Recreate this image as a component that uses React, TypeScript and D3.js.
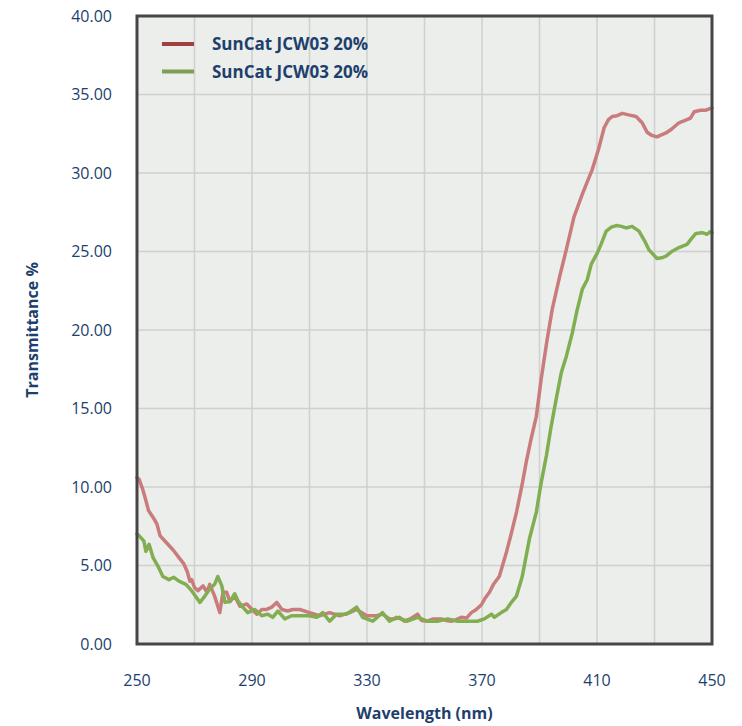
import React from "react";
import * as d3 from "d3";

const redWavelengths = [250, 250.7, 252, 253, 254, 256, 257, 258, 260, 262.5, 264.6, 266.3, 267.5, 268.4, 269, 270, 271.2, 273, 274.3, 275.3, 277, 278.8, 279.9, 281.2, 282.3, 284, 285.8, 288.2, 290, 291.7, 293.4, 295.1, 296.9, 298.6, 300.4, 302.4, 304.2, 306.6, 310, 313.5, 317, 320.5, 324, 326.4, 329.9, 333.3, 335.4, 337.8, 339.6, 341.3, 343, 345, 347.6, 349, 351, 353, 355.9, 357.5, 359.4, 361, 362.8, 364.6, 366.3, 368, 369.8, 371, 372.6, 374, 376, 378.5, 380, 382, 384, 385.4, 387, 388.9, 390.6, 392.5, 394.4, 397, 399.3, 402, 405, 408.3, 410.5, 412.5, 414, 415.3, 417, 418.8, 421, 423.6, 425.7, 427.4, 429, 430.9, 432, 434, 436, 438.5, 441.3, 442.5, 443.8, 446, 447.9, 449.3, 450];
const redValues = [10.6, 10.5, 9.85, 9.2, 8.5, 7.95, 7.6, 6.9, 6.5, 6.0, 5.5, 5.1, 4.6, 4.0, 4.1, 3.6, 3.4, 3.7, 3.3, 3.8, 3.05, 2.0, 3.3, 3.3, 2.7, 3.05, 2.4, 2.55, 2.2, 1.9, 2.2, 2.2, 2.35, 2.65, 2.2, 2.1, 2.2, 2.2, 2.0, 1.8, 2.0, 1.8, 2.0, 2.2, 1.8, 1.8, 1.9, 1.6, 1.6, 1.7, 1.45, 1.6, 1.9, 1.5, 1.45, 1.6, 1.6, 1.5, 1.45, 1.55, 1.7, 1.65, 2.0, 2.2, 2.5, 2.9, 3.3, 3.8, 4.3, 5.85, 6.9, 8.4, 10.2, 11.6, 13.0, 14.5, 16.9, 19.2, 21.3, 23.4, 25.1, 27.2, 28.7, 30.2, 31.5, 32.9, 33.4, 33.6, 33.65, 33.8, 33.7, 33.6, 33.2, 32.6, 32.4, 32.3, 32.4, 32.55, 32.8, 33.2, 33.4, 33.5, 33.9, 34.0, 34.0, 34.1, 34.15];

const greenWavelengths = [250, 250.7, 252.4, 253.1, 254.2, 255.6, 257.3, 259, 261.1, 262.8, 264.6, 267, 269, 271.9, 273.6, 275.3, 277, 278.1, 279.5, 280.6, 282.3, 284, 285.1, 286.8, 288.5, 291, 293.4, 295.5, 297.2, 299, 301.4, 303.8, 306.6, 310, 312.5, 314.6, 317, 319.4, 322.9, 326.4, 328.5, 332, 335.4, 337.8, 340.3, 344, 347.6, 351, 354.5, 358, 361.5, 365, 368.4, 370.8, 373.3, 374.3, 376.7, 378.5, 380, 382, 384, 386.5, 388.9, 390.5, 392.4, 394, 395.8, 397.6, 399.3, 401.4, 403, 404.9, 406.6, 408, 410.1, 411.5, 413.2, 415, 416.7, 418.5, 420.1, 422.2, 424.6, 426.5, 428.1, 430.9, 432.5, 434, 436, 438.5, 441.3, 442.8, 444.4, 446.5, 448.3, 449.3, 450];
const greenValues = [7.0, 6.9, 6.55, 5.9, 6.35, 5.5, 4.95, 4.3, 4.1, 4.25, 4.0, 3.8, 3.4, 2.65, 3.05, 3.5, 3.8, 4.3, 3.7, 2.65, 2.7, 3.2, 2.75, 2.35, 2.0, 2.2, 1.8, 1.9, 1.7, 2.1, 1.6, 1.8, 1.8, 1.8, 1.7, 2.0, 1.45, 1.9, 1.9, 2.35, 1.7, 1.45, 2.0, 1.45, 1.7, 1.45, 1.7, 1.45, 1.45, 1.6, 1.45, 1.45, 1.45, 1.6, 1.9, 1.7, 2.0, 2.2, 2.6, 3.05, 4.3, 6.7, 8.4, 10.2, 12.0, 13.8, 15.6, 17.3, 18.3, 19.8, 21.2, 22.6, 23.2, 24.2, 24.9, 25.5, 26.3, 26.55, 26.65, 26.6, 26.5, 26.6, 26.3, 25.7, 25.1, 24.55, 24.6, 24.7, 25.0, 25.25, 25.45, 25.8, 26.15, 26.2, 26.1, 26.25, 26.2];

const seriesNames = ["SunCat JCW03 20%", "SunCat JCW03 20%"];
const xTickLabels = [250, 290, 330, 370, 410, 450];
const xGridValues = [270, 290, 310, 330, 350, 370, 390, 410, 430];
const yTickLabels = [0, 5, 10, 15, 20, 25, 30, 35, 40];
const xTitle = "Wavelength (nm)";
const yTitle = "Transmittance %";

const W = 742;
const H = 726;
const left = 137;
const right = 712;
const top = 16;
const bottom = 644;
const textColor = "#1d3f6e";
const font = "'Open Sans', 'DejaVu Sans', sans-serif";

export default function App() {
  const x = d3.scaleLinear().domain([250, 450]).range([left, right]);
  const y = d3.scaleLinear().domain([0, 40]).range([bottom, top]);
  const line = d3
    .line<[number, number]>()
    .x((d) => x(d[0]))
    .y((d) => y(d[1]))
    .curve(d3.curveLinear);
  const redData = redWavelengths.map((w, i) => [w, redValues[i]] as [number, number]);
  const greenData = greenWavelengths.map((w, i) => [w, greenValues[i]] as [number, number]);

  const series = [
    { name: seriesNames[0], data: redData, color: "#c97c7b", legend: "#a0413f" },
    { name: seriesNames[1], data: greenData, color: "#80ae50", legend: "#7b9f55" },
  ];

  return (
    <svg width={W} height={H} style={{ position: "absolute", left: 0, top: 0, background: "#fff" }} fontFamily={font}>
      <rect x={left} y={top} width={right - left} height={bottom - top} fill="#eceeeb" />
      {yTickLabels.slice(1, -1).map((v) => (
        <line key={"hy" + v} x1={left} x2={right} y1={y(v)} y2={y(v)} stroke="#cfd0cf" strokeWidth={1.5} />
      ))}
      {xGridValues.map((v) => (
        <line key={"gx" + v} x1={x(v)} x2={x(v)} y1={top} y2={bottom} stroke="#cfd0cf" strokeWidth={1.5} />
      ))}
      {series.map((s, i) => (
        <path key={"s" + i} d={line(s.data) || ""} fill="none" stroke={s.color} strokeWidth={3.5} strokeLinejoin="round" strokeLinecap="round" />
      ))}
      <rect x={left} y={top} width={right - left} height={bottom - top} fill="none" stroke="#464646" strokeWidth={3} />
      {series.map((s, i) => (
        <g key={"lg" + i} transform={`translate(0, ${44 + i * 27.5})`}>
          <line x1={162} x2={194} y1={0} y2={0} stroke={s.legend} strokeWidth={4} />
          <text x={212} y={6} fontSize={17} fontWeight={700} fill={textColor}>
            {s.name}
          </text>
        </g>
      ))}
      {yTickLabels.map((v) => (
        <text key={"yl" + v} x={112} y={y(v)} dy="0.35em" textAnchor="end" fontSize={16} fill={textColor}>
          {v.toFixed(2)}
        </text>
      ))}
      {xTickLabels.map((v) => (
        <text key={"xl" + v} x={x(v)} y={680} dy="0.35em" textAnchor="middle" fontSize={16} fill={textColor}>
          {v}
        </text>
      ))}
      <text x={(left + right) / 2} y={713} dy="0.35em" textAnchor="middle" fontSize={16} fontWeight={700} fill={textColor}>
        {xTitle}
      </text>
      <text transform={`translate(32, ${(top + bottom) / 2}) rotate(-90)`} dy="0.35em" textAnchor="middle" fontSize={16} fontWeight={700} fill={textColor}>
        {yTitle}
      </text>
    </svg>
  );
}
